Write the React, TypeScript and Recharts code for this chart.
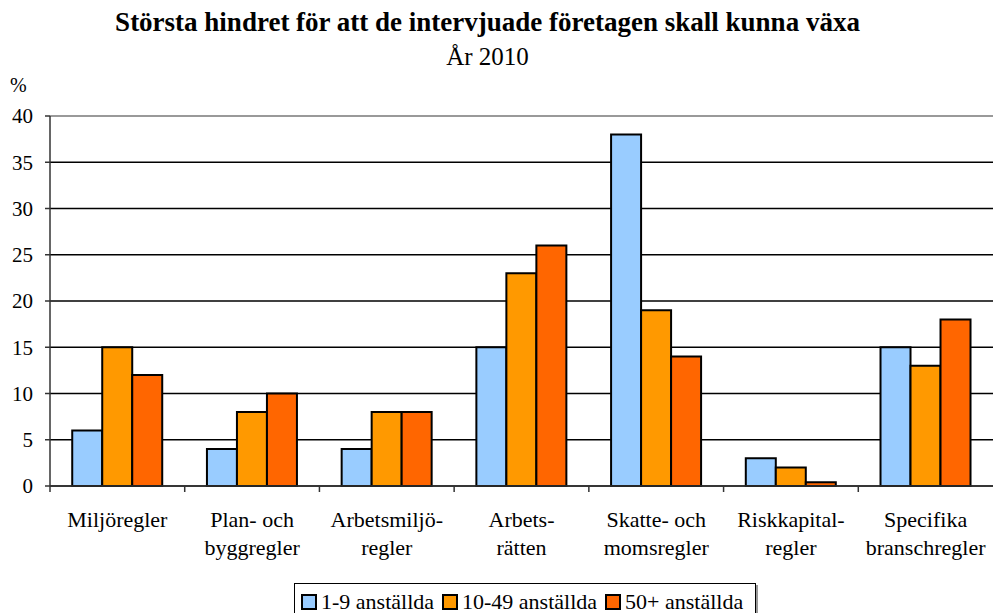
import { Bar, BarChart, CartesianGrid, ReferenceLine, XAxis, YAxis } from "recharts";

const categories = [
  "Miljöregler",
  "Plan- och\nbyggregler",
  "Arbetsmiljö-\nregler",
  "Arbets-\nrätten",
  "Skatte- och\nmomsregler",
  "Riskkapital-\nregler",
  "Specifika\nbranschregler",
];
const small = [6, 4, 4, 15, 38, 3, 15];
const medium = [15, 8, 8, 23, 19, 2, 13];
const large = [12, 10, 8, 26, 14, 0.4, 18];
const yTicks = [0, 5, 10, 15, 20, 25, 30, 35, 40];

const seriesNames = ["1-9 anställda", "10-49 anställda", "50+ anställda"];
const colors = ["#99CCFF", "#FF9900", "#FF6600"];

const data = categories.map((name, i) => ({
  name,
  small: small[i],
  medium: medium[i],
  large: large[i],
}));

const W = 993;
const H = 613;
const PLOT_LEFT = 50;
const FONT = "Liberation Serif";

// category labels, with the tick marks placed on the category boundaries
function CategoryTick(props: any) {
  const { x, y, payload } = props;
  const half = (W - PLOT_LEFT) / categories.length / 2;
  const lines = String(payload.value).split("\n");
  return (
    <g>
      <line x1={x - half} x2={x - half} y1={y} y2={y + 6} stroke="#333" strokeWidth={1.5} />
      {lines.map((l, i) => (
        <text
          key={i}
          x={x}
          y={y + 41 + i * 28}
          textAnchor="middle"
          style={{ fontFamily: FONT }}
          fontSize={22}
          fill="#000"
        >
          {l}
        </text>
      ))}
    </g>
  );
}

export default function App() {
  return (
    <div style={{ position: "absolute", left: 0, top: 0, width: W, height: H, background: "#fff", fontFamily: FONT }}>
      <div style={{ position: "absolute", left: 0, width: 975, top: 6, textAlign: "center", fontWeight: "bold", fontSize: 27, lineHeight: "32px" }}>
        Största hindret för att de intervjuade företagen skall kunna växa
      </div>
      <div style={{ position: "absolute", left: 0, width: 975, top: 41, textAlign: "center", fontSize: 25, lineHeight: "32px" }}>
        År 2010
      </div>
      <div style={{ position: "absolute", left: 10, top: 70, fontSize: 20, lineHeight: "30px" }}>%</div>

      <BarChart
        width={W}
        height={H}
        data={data}
        margin={{ top: 116, right: 0, bottom: 0, left: 0 }}
        barCategoryGap="16.5%"
        barGap={0}
        style={{ fontFamily: FONT }}
      >
        <CartesianGrid vertical={false} stroke="#000" strokeWidth={1.5} />
        <ReferenceLine y={40} stroke="#999" strokeWidth={2} />
        <XAxis
          dataKey="name"
          height={127}
          tickSize={0}
          tickMargin={0}
          axisLine={{ stroke: "#333", strokeWidth: 1.5 }}
          tickLine={false}
          interval={0}
          tick={<CategoryTick />}
        />
        <YAxis
          width={PLOT_LEFT}
          domain={[0, 40]}
          ticks={yTicks}
          interval={0}
          tickSize={5}
          tickMargin={12}
          axisLine={{ stroke: "#333", strokeWidth: 1.5 }}
          tickLine={{ stroke: "#333", strokeWidth: 1.5 }}
          tick={{ fontFamily: FONT, fontSize: 21, fill: "#000" }}
        />
        <Bar dataKey="small" name={seriesNames[0]} fill={colors[0]} stroke="#000" strokeWidth={2} isAnimationActive={false} />
        <Bar dataKey="medium" name={seriesNames[1]} fill={colors[1]} stroke="#000" strokeWidth={2} isAnimationActive={false} />
        <Bar dataKey="large" name={seriesNames[2]} fill={colors[2]} stroke="#000" strokeWidth={2} isAnimationActive={false} />
      </BarChart>

      <div
        style={{
          position: "absolute",
          left: 294,
          top: 583,
          width: 462,
          height: 40,
          border: "1.5px solid #000",
          boxShadow: "2px 2px 0 #999",
          display: "flex",
          alignItems: "flex-start",
          paddingLeft: 6,
          boxSizing: "border-box",
          fontSize: 22,
          lineHeight: "26px",
          paddingTop: 5,
        }}
      >
        {seriesNames.map((n, i) => (
          <div key={n} style={{ display: "flex", alignItems: "center", marginRight: 8 }}>
            <span
              style={{
                display: "inline-block",
                width: 12,
                height: 12,
                background: colors[i],
                border: "2px solid #000",
                marginRight: 4,
              }}
            />
            <span>{n}</span>
          </div>
        ))}
      </div>
    </div>
  );
}
